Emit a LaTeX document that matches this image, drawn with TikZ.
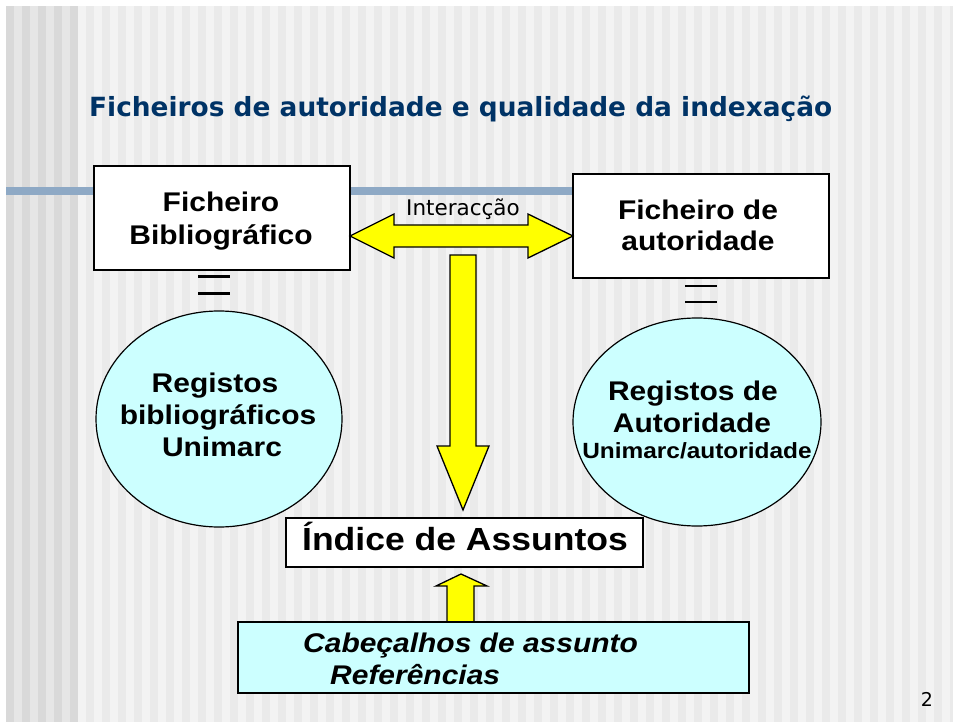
\documentclass[tikz,border=0pt]{standalone}
\usepackage{fontspec}
\usetikzlibrary{shapes.geometric}
\setmainfont{DejaVu Sans}
\newfontfamily\blk[FakeStretch=1.11]{Liberation Sans}
\newfontfamily\dvs{DejaVu Sans}
\definecolor{stripeA}{HTML}{F3F3F3}
\definecolor{stripeB}{HTML}{EAEAEA}
\definecolor{stripeC}{HTML}{E6E6E6}
\definecolor{stripeD}{HTML}{D9D9D9}
\definecolor{barblue}{HTML}{8EA9C5}
\definecolor{titleblue}{HTML}{003366}
\definecolor{lightcyan}{HTML}{CCFFFF}
\definecolor{arrowyellow}{HTML}{FFFF00}
\begin{document}
\begin{tikzpicture}[x=1pt,y=-1pt,
  box/.style={draw=black, line width=1.4pt, fill=white, inner sep=0pt},
  cyanbox/.style={draw=black, line width=1.4pt, fill=lightcyan, inner sep=0pt},
  blob/.style={ellipse, draw=black, line width=1.2pt, fill=lightcyan, inner sep=0pt},
  bigtxt/.style={inner sep=0pt, font=\blk\bfseries\fontsize{27}{32}\selectfont},
  fatarrow/.style={draw=black, line width=1.3pt, fill=arrowyellow, line join=miter},
  eqline/.style={line width=2.4pt, black}
]
\useasboundingbox (0,0) rectangle (953,722);
% background
\fill[white] (0,0) rectangle (953,722);
\fill[stripeA] (6,6) rectangle (953,722);
\foreach \k in {0,...,54} {\fill[stripeB] (86+16*\k,6) rectangle +(8,716);}
\fill[stripeC] (6,6) rectangle (78,722);
\foreach \k in {0,...,4} {\fill[stripeD] (6+16*\k,6) rectangle +(8,716);}
\fill[barblue] (6,187) rectangle (575,195);

% title
\node[inner sep=0pt, anchor=base west, text=titleblue, font=\dvs\bfseries\fontsize{26.4}{30}\selectfont] (title) at (89,117) {Ficheiros de autoridade e qualidade da indexação};

% boxes
\node[box, minimum width=256pt, minimum height=104pt] (fb) at (222,218) {};
\node[box, minimum width=256pt, minimum height=104pt] (fa) at (701,226) {};
\node[bigtxt, anchor=base] (fb1) at (221,212) {Ficheiro};
\node[bigtxt, anchor=base] (fb2) at (221,244) {Bibliográfico};
\node[bigtxt, anchor=base] (fa1) at (698,219) {Ficheiro de};
\node[bigtxt, anchor=base] (fa2) at (698,251) {autoridade};

% equals signs
\coordinate (eqL) at (214,285);
\coordinate (eqR) at (701,294);
\draw[eqline] ([xshift=-16pt,yshift=-8.5pt]eqL) -- ([xshift=16pt,yshift=-8.5pt]eqL);
\draw[eqline] ([xshift=-16pt,yshift=8.5pt]eqL) -- ([xshift=16pt,yshift=8.5pt]eqL);
\draw[eqline] ([xshift=-16pt,yshift=-8pt]eqR) -- ([xshift=16pt,yshift=-8pt]eqR);
\draw[eqline] ([xshift=-16pt,yshift=8pt]eqR) -- ([xshift=16pt,yshift=8pt]eqR);

% ellipses
\node[blob, minimum width=246pt, minimum height=216pt] (rb) at (219,419) {};
\node[blob, minimum width=248pt, minimum height=208pt] (ra) at (697,422) {};
\node[bigtxt, anchor=base] (rb1) at (215,392) {Registos};
\node[bigtxt, anchor=base] (rb2) at (218,424) {bibliográficos};
\node[bigtxt, anchor=base] (rb3) at (222,456) {Unimarc};
\node[bigtxt, anchor=base] (ra1) at (693,400) {Registos de};
\node[bigtxt, anchor=base] (ra2) at (692,432) {Autoridade};
\node[inner sep=0pt, anchor=base, font=\blk\bfseries\fontsize{22}{26}\selectfont] (ra3) at (697,458) {Unimarc/autoridade};

% double arrow (interaction)
\draw[fatarrow] (350,236) -- (394,214) -- (394,225) -- (528,225) -- (528,214) -- (573,236)
  -- (528,258) -- (528,247) -- (394,247) -- (394,258) -- cycle;
\node[inner sep=0pt, anchor=base, font=\dvs\fontsize{21.5}{24}\selectfont] (inter) at (463,216) {Interacção};

% down arrow
\draw[fatarrow] (450,255) -- (476,255) -- (476,446) -- (489,446) -- (463,510) -- (437,446) -- (450,446) -- cycle;

% index box
\node[box, minimum width=357pt, minimum height=49pt] (idx) at (464.5,542.5) {};
\node[inner sep=0pt, anchor=base, font=\blk\bfseries\fontsize{32}{36}\selectfont] (idxt) at (465,550) {Índice de Assuntos};

% up arrow
\draw[fatarrow] (461,574) -- (487,586) -- (474,586) -- (474,624) -- (447,624) -- (447,586) -- (436,586) -- cycle;

% bottom box
\node[cyanbox, minimum width=511pt, minimum height=71pt] (cab) at (493.5,657.5) {};
\node[inner sep=0pt, anchor=base west, font=\blk\bfseries\itshape\fontsize{27}{32}\selectfont] (cab1) at (303,652) {Cabeçalhos de assunto};
\node[inner sep=0pt, anchor=base west, font=\blk\bfseries\itshape\fontsize{27}{32}\selectfont] (cab2) at (330,684) {Referências};

% page number
\node[inner sep=0pt, anchor=base, font=\dvs\fontsize{19}{22}\selectfont] (pg) at (927,706) {2};
\end{tikzpicture}
\end{document}
